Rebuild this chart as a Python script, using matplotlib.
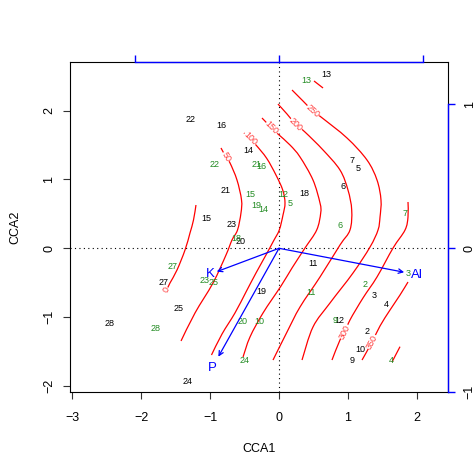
import numpy as np
import matplotlib
matplotlib.use("Agg")
import matplotlib.pyplot as plt
from matplotlib.path import Path
from matplotlib.patches import PathPatch

plt.rcParams["font.family"] = ["Liberation Sans", "DejaVu Sans"]

# site scores, weighted averages (black)
wa_labels = ["22", "16", "14", "21", "15", "23", "20", "13", "7", "5", "6", "18",
             "27", "25", "28", "19", "24", "11", "3", "4", "12", "2", "10", "9"]
wa_x = [-1.277, -0.832, -0.446, -0.774, -1.055, -0.682, -0.556, 0.692, 1.055, 1.151, 0.925, 0.373,
        -1.679, -1.456, -2.453, -0.251, -1.325, 0.498, 1.379, 1.553, 0.871, 1.282, 1.186, 1.055]
wa_y = [1.865, 1.792, 1.419, 0.847, 0.426, 0.353, 0.106, 2.519, 1.273, 1.153, 0.895, 0.799,
        -0.500, -0.882, -1.100, -0.635, -1.929, -0.228, -0.693, -0.810, -1.047, -1.212, -1.464, -1.634]

# site scores, linear combinations (green)
lc_labels = ["13", "22", "21", "16", "15", "19", "14", "12", "5", "18", "6", "7",
             "27", "23", "25", "28", "20", "10", "24", "3", "2", "11", "9", "4"]
lc_x = [0.402, -0.929, -0.324, -0.261, -0.411, -0.324, -0.232, 0.062, 0.160, -0.614, 0.885, 1.824,
        -1.549, -1.084, -0.948, -1.785, -0.527, -0.290, -0.493, 1.868, 1.248, 0.460, 0.813, 1.630]
lc_y = [2.432, 1.211, 1.211, 1.196, 0.789, 0.629, 0.557, 0.775, 0.654, 0.145, 0.328, 0.509,
        -0.267, -0.461, -0.494, -1.173, -1.071, -1.057, -1.624, -0.363, -0.519, -0.645, -1.047, -1.624]

# biplot arrows (arrow units) and their multiplier
env_names = ["K", "P", "Al"]
env_x = [-0.431, -0.420, 0.867]
env_y = [-0.162, -0.752, -0.166]
arrow_mul = 2.095

# ordisurf contour lines
c0_x = [-1.205, -1.241, -1.292, -1.364, -1.480, -1.582, -1.630]
c0_y = [0.629, 0.411, 0.222, -0.025, -0.315, -0.504, -0.606]
c50_x = [-0.842, -0.769, -0.711, -0.610, -0.544, -0.552, -0.602, -0.682, -0.769, -0.958, -1.219, -1.422]
c50_y = [1.458, 1.327, 1.240, 0.993, 0.702, 0.513, 0.266, 0.121, -0.097, -0.504, -0.940, -1.347]
c100_x = [-0.508, -0.421, -0.334, -0.179, -0.044, 0.054, 0.087, 0.058, 0.004, -0.080, -0.189, -0.334,
          -0.479, -0.639, -0.827, -0.980]
c100_y = [1.676, 1.589, 1.501, 1.308, 1.065, 0.847, 0.658, 0.484, 0.266, 0.106, -0.097, -0.359,
          -0.635, -0.940, -1.246, -1.551]
c150_x = [-0.247, -0.106, -0.015, 0.160, 0.305, 0.493, 0.595, 0.605, 0.547, 0.377, 0.189, 0.029,
          -0.232, -0.421, -0.522]
c150_y = [1.894, 1.749, 1.661, 1.501, 1.327, 0.993, 0.658, 0.513, 0.266, 0.004, -0.286, -0.548,
          -0.940, -1.289, -1.580]
c200_x = [-0.015, 0.116, 0.247, 0.377, 0.639, 0.885, 1.001, 1.055, 1.030, 0.885, 0.595, 0.305, 0.116, -0.087]
c200_y = [2.097, 1.952, 1.799, 1.690, 1.429, 1.138, 0.847, 0.557, 0.266, 0.048, -0.417, -0.853, -1.217, -1.624]
c250_x = [0.189, 0.348, 0.493, 0.610, 0.987, 1.277, 1.422, 1.480, 1.466, 1.437, 1.321, 1.074, 0.740, 0.493, 0.334]
c250_y = [2.301, 2.141, 1.996, 1.908, 1.603, 1.283, 0.993, 0.702, 0.455, 0.266, 0.019, -0.359, -0.795, -1.144, -1.624]
c300a_x = [0.508, 0.639]
c300a_y = [2.432, 2.330]
c300_x = [1.872, 1.872, 1.829, 1.655, 1.422, 1.219, 1.030, 0.958, 0.885, 0.769]
c300_y = [0.673, 0.455, 0.266, 0.004, -0.417, -0.722, -1.042, -1.217, -1.333, -1.624]
c350_x = [1.872, 1.756, 1.611, 1.466, 1.350, 1.205]
c350_y = [-0.490, -0.679, -0.897, -1.129, -1.362, -1.624]
c400_x = [1.756, 1.640]
c400_y = [-1.430, -1.653]

# (x, y, level label, index of label point or None)
contours = [
    (c0_x, c0_y, "0", 6),
    (c50_x, c50_y, "50", 1),
    (c100_x, c100_y, "100", 1),
    (c150_x, c150_y, "150", 1),
    (c200_x, c200_y, "200", 2),
    (c250_x, c250_y, "250", 2),
    (c300a_x, c300a_y, "300", None),
    (c300_x, c300_y, "300", 7),
    (c350_x, c350_y, "350", 4),
    (c400_x, c400_y, "400", None),
]

xlim = (-3.029, 2.457)
ylim = (-2.089, 2.703)


def smooth_path(xs, ys):
    """Bezier path through the read points (drawing only)."""
    pts = np.column_stack([xs, ys])
    n = len(pts)
    if n < 3:
        return Path(pts)
    verts = [pts[0]]
    codes = [Path.MOVETO]
    for i in range(n - 1):
        p0 = pts[max(i - 1, 0)]
        p1 = pts[i]
        p2 = pts[i + 1]
        p3 = pts[min(i + 2, n - 1)]
        verts += [p1 + (p2 - p0) / 6, p2 - (p3 - p1) / 6, p2]
        codes += [Path.CURVE4] * 3
    return Path(verts, codes)


fig = plt.figure(figsize=(4.73, 4.57), dpi=100)
ax = fig.add_axes([0.1486, 0.1422, 0.7992, 0.7214])
ax.set_xlim(*xlim)
ax.set_ylim(*ylim)

for s in ax.spines.values():
    s.set_linewidth(0.8)
    s.set_color("black")

ax.set_xticks([-3, -2, -1, 0, 1, 2])
ax.set_yticks([-2, -1, 0, 1, 2])
ax.tick_params(direction="out", length=5, width=0.8, labelsize=9, colors="#333333",
               labelcolor="black")
ax.tick_params(axis="x", pad=9.5)
ax.tick_params(axis="y", pad=6)
for lab in ax.get_yticklabels():
    lab.set_rotation(90)
    lab.set_va("center")

ax.set_xlabel("CCA1", fontsize=9)
ax.set_ylabel("CCA2", fontsize=9)
ax.xaxis.set_label_coords(0.5, -0.155)
ax.yaxis.set_label_coords(-0.13, 0.5)

ax.axhline(0, color="black", lw=0.8, ls=(0, (1, 3)), zorder=1)
ax.axvline(0, color="black", lw=0.8, ls=(0, (1, 3)), zorder=1)

# contours
fig.canvas.draw()
for cx, cy, lev, idx in contours:
    ax.add_patch(PathPatch(smooth_path(cx, cy), facecolor="none", edgecolor="red",
                           lw=0.9, zorder=2))
    if idx is None:
        continue
    i0 = max(idx - 1, 0)
    i1 = min(idx + 1, len(cx) - 1)
    p0 = ax.transData.transform((cx[i0], cy[i0]))
    p1 = ax.transData.transform((cx[i1], cy[i1]))
    ang = np.degrees(np.arctan2(p1[1] - p0[1], p1[0] - p0[0]))
    if ang > 90:
        ang -= 180
    elif ang <= -90:
        ang += 180
    ax.text(cx[idx], cy[idx], lev, color="#ff3a3a", fontsize=6.5, rotation=ang,
            rotation_mode="anchor", ha="center", va="center", zorder=3,
            bbox=dict(facecolor="white", edgecolor="none", pad=0.2))

# site labels
for lab, x, y in zip(wa_labels, wa_x, wa_y):
    ax.text(x, y, lab, color="black", fontsize=6.5, ha="center", va="center", zorder=4)
for lab, x, y in zip(lc_labels, lc_x, lc_y):
    ax.text(x, y, lab, color="forestgreen", fontsize=6.5, ha="center", va="center", zorder=4)

# biplot arrows
for name, x, y in zip(env_names, env_x, env_y):
    ax.annotate("", xy=(x * arrow_mul, y * arrow_mul), xytext=(0, 0),
                arrowprops=dict(arrowstyle="->", color="blue", lw=0.9,
                                shrinkA=0, shrinkB=0, mutation_scale=8),
                zorder=5)
    ax.text(x * arrow_mul * 1.1, y * arrow_mul * 1.1, name, color="blue", fontsize=9.5,
            ha="center", va="center", zorder=5)

# arrow scale axes (right and top)
axr = ax.twinx()
axr.set_ylim(ylim[0] / arrow_mul, ylim[1] / arrow_mul)
axr.set_yticks([-1, 0, 1])
for k, s in axr.spines.items():
    s.set_visible(k == "right")
axr.spines["right"].set_color("blue")
axr.spines["right"].set_linewidth(1.0)
axr.spines["right"].set_bounds(-1, 1)
axr.tick_params(axis="y", direction="out", length=5, width=1.0, color="blue",
                labelsize=9, pad=6, labelcolor="black")
for lab in axr.get_yticklabels():
    lab.set_rotation(90)
    lab.set_va("center")

axt = ax.twiny()
axt.set_xlim(xlim[0] / arrow_mul, xlim[1] / arrow_mul)
axt.set_xticks([-1, 0, 1])
for k, s in axt.spines.items():
    s.set_visible(k == "top")
axt.spines["top"].set_color("blue")
axt.spines["top"].set_linewidth(1.0)
axt.spines["top"].set_bounds(-1, 1)
axt.tick_params(axis="x", direction="out", length=5, width=1.0, color="blue",
                labeltop=False)

fig.savefig("out.png", dpi=100)
